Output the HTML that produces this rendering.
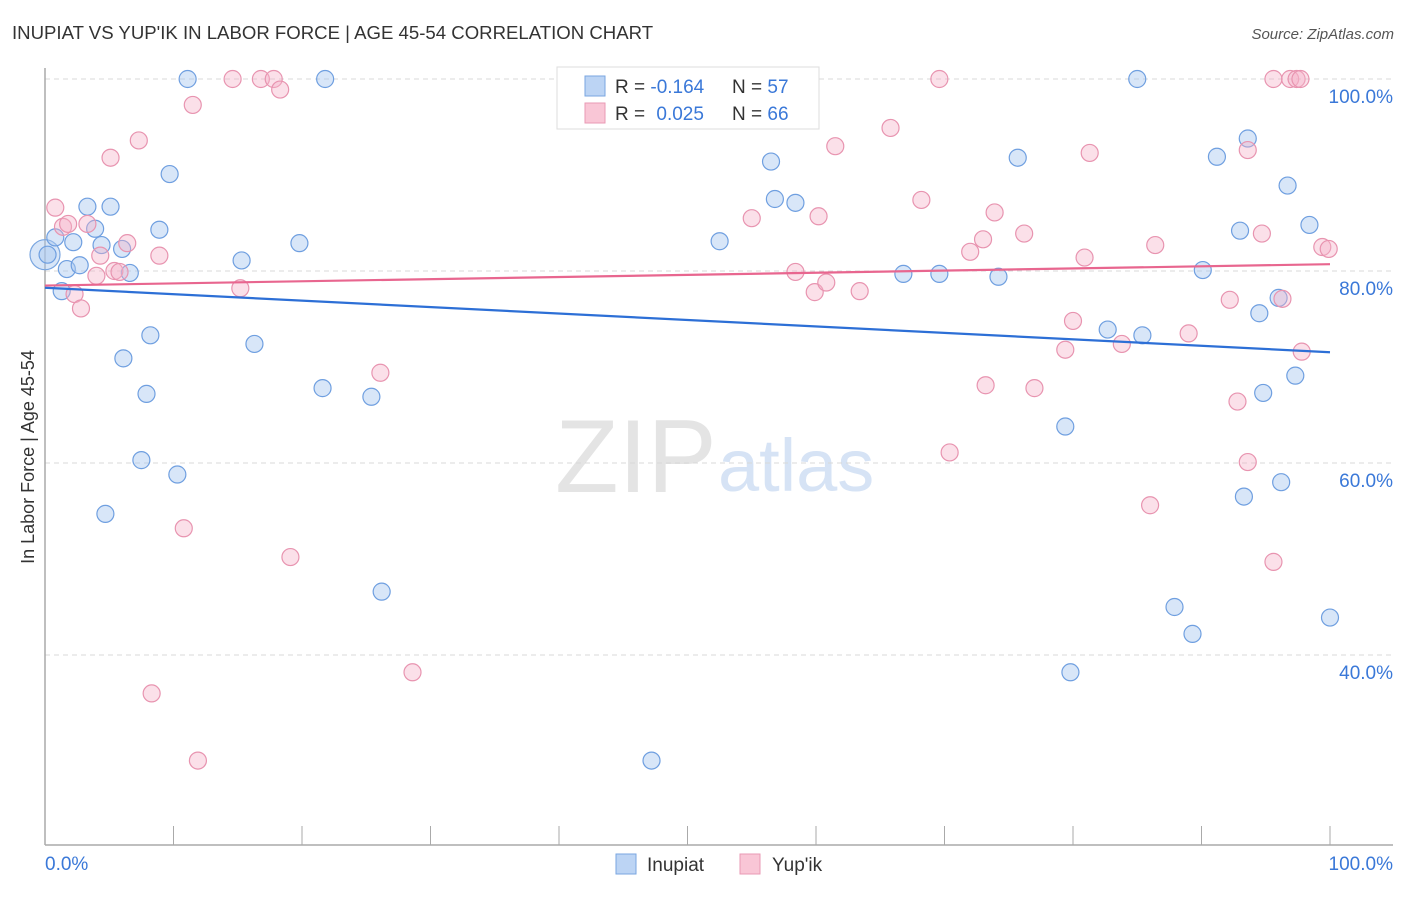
<!DOCTYPE html>
<html><head><meta charset="utf-8">
<style>
body{margin:0;background:#fff;font-family:"Liberation Sans",sans-serif;}
svg text{font-family:"Liberation Sans",sans-serif;}
</style></head>
<body>
<svg id="chart" width="1406" height="892" xmlns="http://www.w3.org/2000/svg">
<text x="12" y="39" font-size="18.6" fill="#333">INUPIAT VS YUP'IK IN LABOR FORCE | AGE 45-54 CORRELATION CHART</text>
<text x="1394" y="39" font-size="15" fill="#555" font-style="italic" text-anchor="end">Source: ZipAtlas.com</text>
<text x="34" y="457" font-size="18" fill="#333" text-anchor="middle" transform="rotate(-90 34 457)">In Labor Force | Age 45-54</text>
<text x="555" y="492" font-size="104" fill="#e4e4e4" font-family="Liberation Serif">ZIP</text>
<text x="718" y="491" font-size="74" fill="#d6e3f5">atlas</text>
<g id="grid"></g>
<g id="axes"></g>
<g id="pts"></g>
<g id="lines"></g>
<g>
<rect x="557" y="67" width="262" height="62" fill="#fff" stroke="#ddd"/>
<rect x="585" y="76" width="20" height="20" fill="#bcd4f4" stroke="#7aa6e0"/>
<rect x="585" y="103" width="20" height="20" fill="#f9c6d6" stroke="#e99ab4"/>
<text x="615" y="93" font-size="19" fill="#333">R = <tspan fill="#3a78d8">-0.164</tspan></text>
<text x="732" y="93" font-size="19" fill="#333">N = <tspan fill="#3a78d8">57</tspan></text>
<text x="615" y="120" font-size="19" fill="#333">R = <tspan fill="#3a78d8" dx="6">0.025</tspan></text>
<text x="732" y="120" font-size="19" fill="#333">N = <tspan fill="#3a78d8">66</tspan></text>
</g>
<g>
<rect x="616" y="854" width="20" height="20" fill="#bcd4f4" stroke="#7aa6e0"/>
<text x="647" y="871" font-size="19" fill="#333">Inupiat</text>
<rect x="740" y="854" width="20" height="20" fill="#f9c6d6" stroke="#e99ab4"/>
<text x="772" y="871" font-size="19" fill="#333">Yup'ik</text>
</g>
</svg>
<script>
const blueX=[0.2,0.8,1.3,1.7,2.2,2.7,3.3,3.9,4.4,4.7,5.1,6.0,6.1,6.6,7.9,7.5,8.2,8.9,9.7,10.3,11.1,15.3,16.3,19.8,21.6,21.8,25.4,26.2,47.2,52.5,56.5,56.8,58.4,66.8,69.6,74.2,75.7,79.4,79.8,82.7,85.0,85.4,87.9,89.3,90.1,91.2,93.0,93.3,93.6,94.5,94.8,96.0,96.2,96.7,97.3,98.4,100];
const blueY=[81.7,83.5,77.9,80.2,83.0,80.6,86.7,84.4,82.7,54.7,86.7,82.3,70.9,79.8,67.2,60.3,73.3,84.3,90.1,58.8,100,81.1,72.4,82.9,67.8,100,66.9,46.6,29.0,83.1,91.4,87.5,87.1,79.7,79.7,79.4,91.8,63.8,38.2,73.9,100,73.3,45.0,42.2,80.1,91.9,84.2,56.5,93.8,75.6,67.3,77.2,58.0,88.9,69.1,84.8,43.9];
const pinkX=[0.8,1.4,1.8,2.3,2.8,3.3,4.0,4.3,5.1,5.4,5.8,6.4,7.3,8.3,8.9,10.8,11.5,11.9,14.6,15.2,16.8,17.8,18.3,19.1,26.1,28.6,49.9,55.0,58.4,59.9,60.2,60.8,61.5,63.4,65.8,68.2,69.6,70.4,72.0,73.0,73.2,73.9,76.2,77.0,79.4,80.0,80.9,81.3,83.8,86.0,86.4,89.0,92.2,92.8,93.6,93.6,94.7,95.6,95.6,96.3,96.9,97.4,97.7,97.8,99.4,99.9];
const pinkY=[86.6,84.6,84.9,77.6,76.1,84.9,79.5,81.6,91.8,80.0,79.9,82.9,93.6,36.0,81.6,53.2,97.3,29.0,100,78.2,100,100,98.9,50.2,69.4,38.2,100,85.5,79.9,77.8,85.7,78.8,93.0,77.9,94.9,87.4,100,61.1,82.0,83.3,68.1,86.1,83.9,67.8,71.8,74.8,81.4,92.3,72.4,55.6,82.7,73.5,77.0,66.4,60.1,92.6,83.9,49.7,100,77.1,100,100,100,71.6,82.5,82.3];
const yTicks=[100,80,60,40];
const yTickLabels=["100.0%","80.0%","60.0%","40.0%"];
const xTicks=[0,10,20,30,40,50,60,70,80,90,100];

const NS="http://www.w3.org/2000/svg";
const sx=v=>45+v*12.85;
const sy=v=>79+(100-v)*9.6;
function mk(tag,attrs,parent){const e=document.createElementNS(NS,tag);for(const k in attrs)e.setAttribute(k,attrs[k]);document.getElementById(parent).appendChild(e);return e;}

yTicks.forEach((t,i)=>{
  const g=mk('line',{x1:45,x2:1393,y1:sy(t),y2:sy(t),stroke:'#d8d8d8','stroke-dasharray':'5,4'},'grid');
  
  
  const l=mk('text',{x:1393,y:sy(t)+24,'font-size':19,fill:'#3a78d8','text-anchor':'end'},'axes');
  l.textContent=yTickLabels[i];
  
  
});
let a=mk('line',{x1:45,x2:45,y1:68,y2:845,stroke:'#aaa','stroke-width':1.5},'axes');


a=mk('line',{x1:45,x2:1393,y1:845,y2:845,stroke:'#aaa','stroke-width':1.5},'axes');


xTicks.forEach(t=>{
  const tk=mk('line',{x1:sx(t),x2:sx(t),y1:826,y2:845,stroke:'#aaa'},'axes');
  
  
});
let xl=mk('text',{x:45,y:870,'font-size':19,fill:'#3a78d8'},'axes');xl.textContent='0.0%';


xl=mk('text',{x:1393,y:870,'font-size':19,fill:'#3a78d8','text-anchor':'end'},'axes');xl.textContent='100.0%';



let big=mk('circle',{cx:sx(0),cy:sy(81.7),r:15,fill:'rgba(169,200,240,0.45)',stroke:'#7aa6e0','stroke-width':1.2},'pts');


function drawPts(X,Y,fill,stroke,name){
  X.forEach((x,i)=>{
    const c=mk('circle',{cx:sx(x),cy:sy(Y[i]),r:8.5,fill:fill,stroke:stroke,'stroke-width':1.2},'pts');
    
    
  });
}
drawPts(blueX,blueY,'rgba(169,200,240,0.45)','#6f9fe0','inupiat');
drawPts(pinkX,pinkY,'rgba(245,178,200,0.4)','#e894b0','yupik');

function reg(X,Y){const n=X.length;let mx=0,my=0;X.forEach((x,i)=>{mx+=x;my+=Y[i];});mx/=n;my/=n;let sxy=0,sxx=0;X.forEach((x,i)=>{sxy+=(x-mx)*(Y[i]-my);sxx+=(x-mx)*(x-mx);});const b=sxy/sxx;return [my-b*mx,b];}
function drawLine(X,Y,color,name){
  const [a0,b]=reg(X,Y);
  const l=mk('line',{x1:sx(0),x2:sx(100),y1:sy(a0),y2:sy(a0+b*100),stroke:color,'stroke-width':2.2},'lines');
  
  
}
drawLine(blueX,blueY,'#2d6fd6','inupiat-trend-line');
drawLine(pinkX,pinkY,'#e8668f','yupik-trend-line');
</script>
</body></html>
